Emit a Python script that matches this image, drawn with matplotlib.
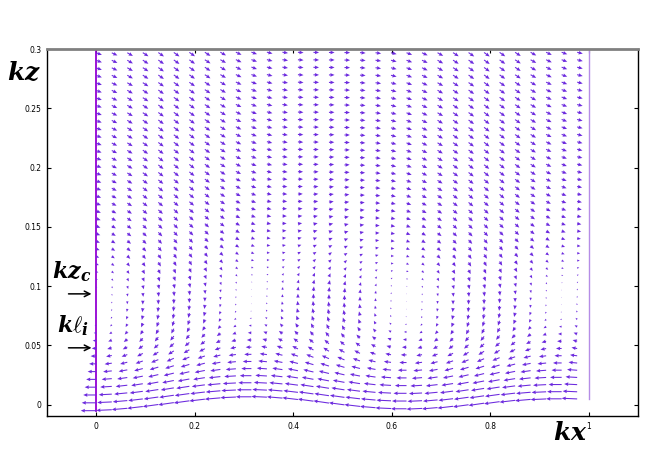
import numpy as np
import matplotlib
matplotlib.use("Agg")
import matplotlib.pyplot as plt

plt.rcParams["mathtext.fontset"] = "custom"
plt.rcParams["mathtext.it"] = "DejaVu Serif:italic:bold"
plt.rcParams["mathtext.rm"] = "DejaVu Serif:bold"

# grid of the vector field (wave-following, 32 columns)
kx_cols = np.linspace(0.0, 0.9765, 32)
kz_levels = np.linspace(0.0, 0.297, 48)

# lowest row of points sits on the wavy surface
surface_z = [-0.0050, -0.0042, -0.0030, -0.0015, 0.0002, 0.0018, 0.0033, 0.0047,
             0.0058, 0.0065, 0.0067, 0.0064, 0.0056, 0.0044, 0.0030, 0.0014,
             -0.0001, -0.0014, -0.0025, -0.0032, -0.0034, -0.0031, -0.0024, -0.0013,
             0.0000, 0.0013, 0.0026, 0.0037, 0.0045, 0.0049, 0.0050, 0.0049]

# horizontal component per row (kx units)
u_rows = [-0.0315, -0.0295, -0.0265, -0.0235, -0.0205, -0.0175, -0.0145, -0.0115,
          -0.0092, -0.0072, -0.0052, -0.0033, -0.0020, -0.0010, 0.0000, 0.0010,
          0.0020, 0.0032, 0.0043, 0.0053, 0.0061, 0.0069, 0.0075, 0.0081,
          0.0085, 0.0089, 0.0093, 0.0096, 0.0098, 0.0100, 0.0102, 0.0104,
          0.0105, 0.0106, 0.0107, 0.0108, 0.0109, 0.0110, 0.0110, 0.0111,
          0.0111, 0.0112, 0.0112, 0.0113, 0.0113, 0.0113, 0.0114, 0.0114]

# vertical component: row amplitude x column phase, plus a row offset (kz units)
w_amp_rows = [-0.0019, -0.0018, -0.0018, -0.0019, -0.0021, -0.0023, -0.0026, -0.0030,
              -0.0034, -0.0038, -0.0041, -0.0043, -0.0044, -0.0043, -0.0042, -0.0040,
              -0.0037, -0.0034, -0.0031, -0.0029, -0.0027, -0.0025, -0.0024, -0.0023,
              -0.0022, -0.0021, -0.0021, -0.0020, -0.0020, -0.0020, -0.0019, -0.0019,
              -0.0019, -0.0019, -0.0018, -0.0018, -0.0018, -0.0018, -0.0018, -0.0018,
              -0.0017, -0.0017, -0.0017, -0.0017, -0.0017, -0.0017, -0.0017, -0.0017]
w_mean_rows = [0.0, 0.0, 0.0, 0.0, 0.0, 0.0, 0.0, 0.0,
               0.0, 0.0, 0.0, 0.0, 0.0, 0.0, 0.0, 0.0,
               -0.0002, -0.0004, -0.0006, -0.0008, -0.0009, -0.0010, -0.0011, -0.0012,
               -0.0013, -0.0013, -0.0014, -0.0014, -0.0015, -0.0015, -0.0015, -0.0016,
               -0.0016, -0.0016, -0.0016, -0.0017, -0.0017, -0.0017, -0.0017, -0.0017,
               -0.0017, -0.0017, -0.0017, -0.0017, -0.0017, -0.0017, -0.0017, -0.0017]
w_phase_cols = [0.00, 0.31, 0.59, 0.81, 0.95, 1.00, 0.95, 0.81, 0.59, 0.31, 0.00, -0.31,
                -0.59, -0.81, -0.95, -1.00, -0.95, -0.81, -0.59, -0.31, 0.00, 0.31,
                0.59, 0.81, 0.95, 1.00, 0.95, 0.81, 0.59, 0.31, 0.00, -0.31]

right_wall_z = 0.0050

x_ticks = [0, 0.2, 0.4, 0.6, 0.8, 1]
x_ticklabels = ["0", "0.2", "0.4", "0.6", "0.8", "1"]
y_ticks = [0, 0.05, 0.1, 0.15, 0.2, 0.25, 0.3]
y_ticklabels = ["0", "0.05", "0.1", "0.15", "0.2", "0.25", "0.3"]

kz_c = 0.0935
kl_i = 0.048

ARROW_COLOR = "#6c2ade"

fig = plt.figure(figsize=(6.54, 4.61), dpi=100)
ax = fig.add_axes([0.0719, 0.0976, 0.9036, 0.7961])

# build the field on the terrain-following grid
surf = np.array(surface_z)
lev = kz_levels[:, None]
X = np.broadcast_to(kx_cols[None, :], (len(kz_levels), len(kx_cols)))
Z = lev + surf[None, :] * np.exp(-10.0 * lev)
U = np.broadcast_to(np.array(u_rows)[:, None], X.shape)
W = np.array(w_amp_rows)[:, None] * np.array(w_phase_cols)[None, :] + np.array(w_mean_rows)[:, None]

# domain walls
ax.plot([0, 0], [surface_z[0], 0.3], color="#9400d3", lw=1.3, zorder=2)
ax.plot([1, 1], [right_wall_z, 0.3], color="#b58de6", lw=1.0, zorder=2)

ax.quiver(X, Z, U, W, angles="xy", scale_units="xy", scale=1,
          color=ARROW_COLOR, width=0.0018, headwidth=3.5, headlength=4,
          headaxislength=3.6, minlength=0.5, zorder=3)

ax.set_xlim(-0.1, 1.1)
ax.set_ylim(-0.0095, 0.3)
ax.set_xticks(x_ticks)
ax.set_xticklabels(x_ticklabels)
ax.set_yticks(y_ticks)
ax.set_yticklabels(y_ticklabels)
ax.tick_params(direction="in", length=3, width=0.8, labelsize=5.5,
               top=True, right=True, pad=4)
for side in ["left", "right", "bottom"]:
    ax.spines[side].set_linewidth(1.0)
ax.spines["top"].set_color("#808080")
ax.spines["top"].set_linewidth(2.0)

# labels and markers
ax.text(-0.146, 0.28, r"$kz$", fontsize=18, ha="center", va="center", clip_on=False)
ax.text(0.963, -0.0236, r"$kx$", fontsize=18, ha="center", va="center", clip_on=False)
ax.text(-0.050, 0.112, r"$kz_c$", fontsize=16, ha="center", va="center")
ax.text(-0.047, 0.0666, r"$k\ell_i$", fontsize=16, ha="center", va="center")
for y in (kz_c, kl_i):
    ax.annotate("", xy=(-0.004, y), xytext=(-0.062, y),
                arrowprops=dict(arrowstyle="->", color="black", lw=1.1))

fig.savefig("out.png", dpi=100)
